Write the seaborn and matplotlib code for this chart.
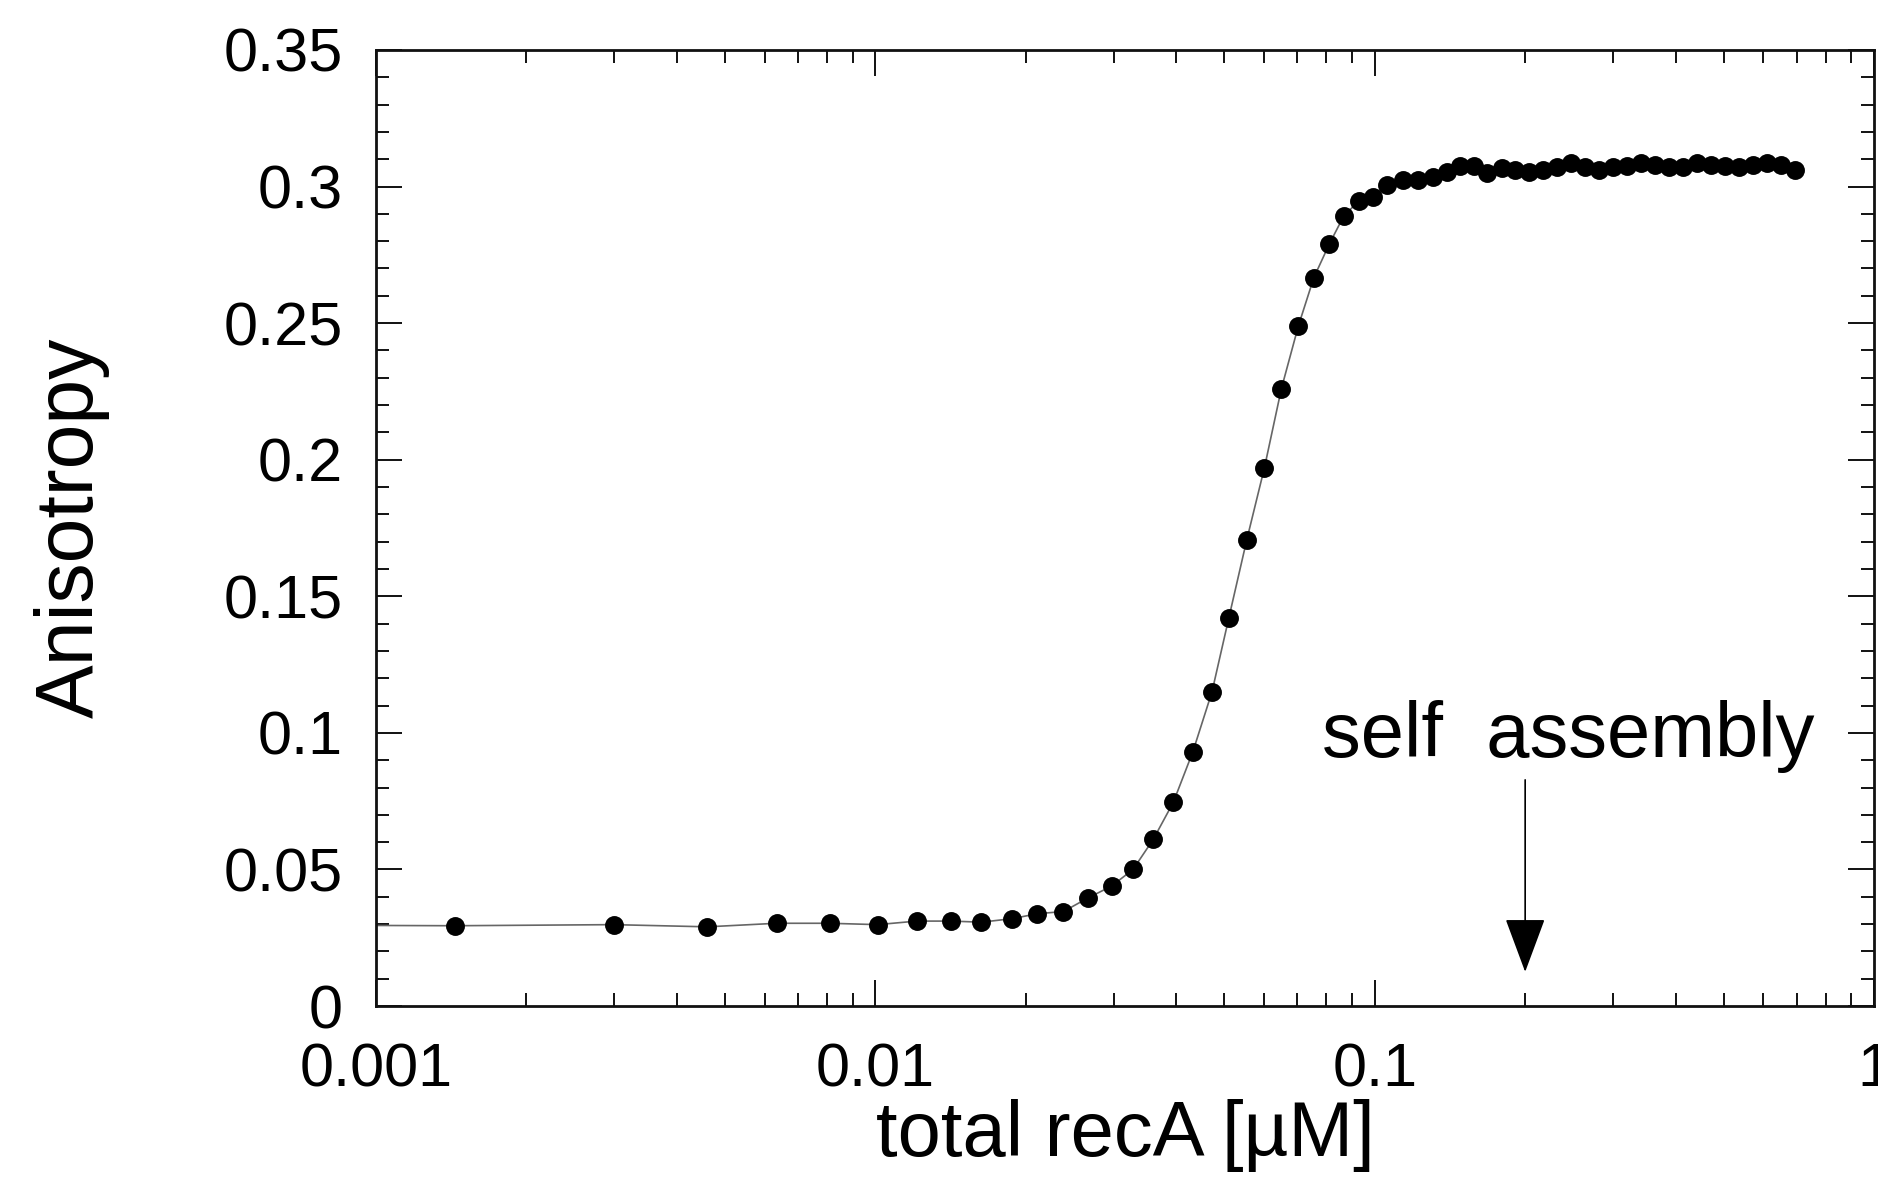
import numpy as np
import pandas as pd
import seaborn as sns
import matplotlib.pyplot as plt
from matplotlib.ticker import FixedLocator, FixedFormatter, LogLocator, NullFormatter

conc = [0.00144, 0.00299, 0.00461, 0.00634, 0.0081, 0.0101, 0.0121, 0.0142,
        0.0163, 0.0188, 0.0211, 0.0238, 0.0266, 0.0297, 0.0328, 0.0360,
        0.0395, 0.0432, 0.0472, 0.0510, 0.0554, 0.0601, 0.0650, 0.0703,
        0.0755, 0.0811, 0.0867, 0.0930, 0.0991, 0.106, 0.1138, 0.122,
        0.1306, 0.1393, 0.148, 0.158, 0.168, 0.1795, 0.1907, 0.2034,
        0.217, 0.2315, 0.2469, 0.2634, 0.2809, 0.2996, 0.3197, 0.3409,
        0.3636, 0.3879, 0.4137, 0.4412, 0.4707, 0.5021, 0.5355, 0.5713,
        0.6094, 0.650, 0.6932]
aniso = [0.0294, 0.0298, 0.0290, 0.0303, 0.0303, 0.0298, 0.0311, 0.0311,
         0.0307, 0.0320, 0.0338, 0.0346, 0.0395, 0.0439, 0.0500, 0.0610,
         0.0746, 0.0930, 0.1150, 0.1420, 0.1706, 0.1970, 0.2260, 0.2490,
         0.2667, 0.2790, 0.2893, 0.2948, 0.2963, 0.3006, 0.3025, 0.3025,
         0.3035, 0.3054, 0.3076, 0.3076, 0.3050, 0.3069, 0.3060, 0.3055,
         0.3060, 0.3070, 0.3085, 0.3070, 0.3060, 0.3070, 0.3075, 0.3085,
         0.3080, 0.3070, 0.3070, 0.3085, 0.3080, 0.3075, 0.3070, 0.3080,
         0.3085, 0.3080, 0.3060]

# fitted curve starts at the left edge of the axis
fit_start_x = [0.001]
fit_start_y = [0.0295]

ytick_vals = [0, 0.05, 0.1, 0.15, 0.2, 0.25, 0.3, 0.35]
ytick_labels = ["0", "0.05", "0.1", "0.15", "0.2", "0.25", "0.3", "0.35"]
xtick_vals = [0.001, 0.01, 0.1, 1]
xtick_labels = ["0.001", "0.01", "0.1", "1"]

arrow_x = 0.2
arrow_top = 0.0828
arrow_tip = 0.0125

df = pd.DataFrame({"conc": conc, "aniso": aniso})
fit = pd.DataFrame({"conc": fit_start_x + conc, "aniso": fit_start_y + aniso})

sns.set_style("ticks")
plt.rcParams["font.family"] = ["Liberation Sans", "DejaVu Sans"]
plt.rcParams["text.color"] = "black"
plt.rcParams["axes.labelcolor"] = "black"

fig = plt.figure(figsize=(18.78, 11.84), dpi=100)
ax = fig.add_axes([0.2002, 0.1503, 0.7978, 0.8075])

sns.lineplot(data=fit, x="conc", y="aniso", ax=ax, color="#666666",
             linewidth=1.2, sort=False, zorder=2)
sns.scatterplot(data=df, x="conc", y="aniso", ax=ax, color="black",
                s=185, edgecolor="black", linewidth=0, zorder=3)

ax.set_xscale("log")
ax.set_xlim(0.001, 1)
ax.set_ylim(0, 0.35)

ax.xaxis.set_major_locator(FixedLocator(xtick_vals))
ax.xaxis.set_major_formatter(FixedFormatter(xtick_labels))
ax.xaxis.set_minor_locator(LogLocator(base=10, subs=np.arange(2, 10)))
ax.xaxis.set_minor_formatter(NullFormatter())
ax.yaxis.set_major_locator(FixedLocator(ytick_vals))
ax.yaxis.set_major_formatter(FixedFormatter(ytick_labels))
ax.yaxis.set_minor_locator(FixedLocator(np.arange(0, 0.351, 0.01)))

ax.tick_params(which="both", direction="in", top=True, right=True,
               colors="#111111", width=1.4)
ax.tick_params(which="major", length=19, labelsize=44, labelcolor="black")
ax.tick_params(which="minor", length=9.5)
ax.tick_params(axis="y", which="major", pad=24)
ax.tick_params(axis="x", which="major", pad=26)

for sp in ax.spines.values():
    sp.set_linewidth(2)
    sp.set_color("#111111")

ax.set_xlabel("total recA [\u00b5M]", fontsize=56, labelpad=0)
ax.set_ylabel("Anisotropy", fontsize=58, labelpad=82)

ax.annotate("", xy=(arrow_x, arrow_tip), xytext=(arrow_x, arrow_top),
            arrowprops=dict(arrowstyle="-|>,head_length=3.5,head_width=1.3",
                            mutation_scale=10, lw=1.2, color="black",
                            shrinkA=0, shrinkB=0))
ax.text(0.2445, 0.0912, "self  assembly", fontsize=56, ha="center",
        va="baseline")

fig.savefig("out.png", dpi=100)
